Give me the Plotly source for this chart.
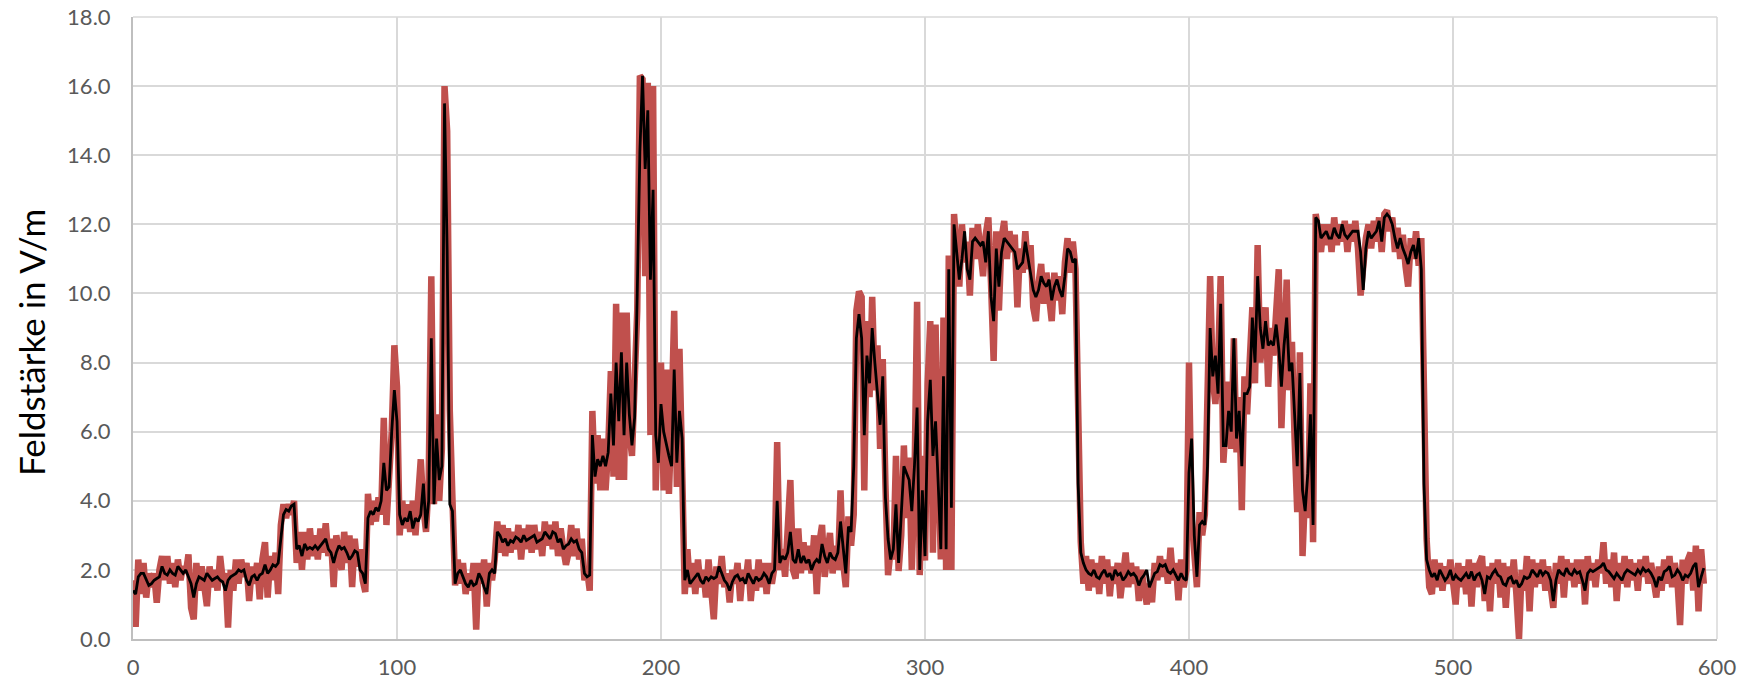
import plotly.graph_objects as go

# Measured field strength (red) and smoothed value (black), one value per time step
red_values = [
    1.7, 0.35, 2.3, 1.3, 2.2, 1.2, 1.9, 1.5, 1.9, 1.05,
    2.0, 2.4, 1.7, 2.4, 1.6, 2.2, 1.5, 2.3, 1.7, 2.1,
    1.9, 2.45, 0.9, 0.57, 2.2, 1.4, 2.1, 1.6, 0.95, 2.1,
    1.5, 2.0, 1.4, 2.4, 1.7, 1.9, 0.33, 2.0, 1.4, 2.3,
    1.6, 2.3, 1.8, 2.2, 1.1, 2.1, 1.6, 2.2, 1.15, 2.3,
    2.8, 1.2, 2.4, 1.7, 2.5, 1.3, 3.3, 3.9, 3.5, 3.9,
    3.6, 4.0, 2.2, 3.1, 2.0, 3.1, 2.3, 3.2, 2.4, 3.0,
    2.3, 3.2, 2.5, 3.35, 2.4, 2.9, 1.5, 3.0, 2.3, 2.0,
    3.1, 2.2, 3.0, 1.5, 2.9, 2.1, 2.6, 1.7, 1.36, 4.2,
    3.3, 4.0, 3.4, 4.1, 3.6, 6.4, 3.3, 4.6, 6.0, 8.5,
    7.3, 3.0, 4.0, 3.2, 3.9, 3.1, 4.0, 3.0, 3.9, 5.2,
    3.8, 3.1, 4.6, 10.5, 3.9, 6.5, 4.0, 5.5, 16.0, 14.7,
    6.6, 3.7, 1.55, 2.3, 1.6, 2.2, 1.3, 1.9, 1.4, 2.2,
    0.27, 2.2, 1.6, 2.3, 0.94, 2.2, 1.7, 2.3, 3.4, 2.5,
    3.3, 2.4, 3.2, 2.5, 3.1, 2.6, 3.3, 2.3, 3.2, 2.6,
    3.3, 2.5, 3.3, 2.6, 3.1, 2.4, 3.4, 2.7, 3.3, 2.6,
    3.4, 2.4, 3.2, 2.6, 2.15, 2.5, 3.3, 2.4, 3.2,
    2.3, 2.9, 1.7, 2.0, 1.4, 6.6, 4.5, 5.9, 4.3, 5.8,
    4.3, 5.5, 7.75, 4.7, 9.7, 4.6, 9.45, 4.6, 9.45, 6.0,
    5.3, 7.5, 9.5, 16.3, 16.2, 10.5, 16.1, 5.9, 16.0, 4.3,
    7.0, 8.0, 4.3, 7.8, 4.2, 6.4, 9.5, 4.4, 8.4, 5.0,
    1.3, 2.6, 1.5, 2.2, 1.3, 2.3, 1.5, 2.0, 1.2, 2.3,
    1.4, 0.57, 2.1, 1.6, 2.4, 1.5, 1.9, 1.06, 2.0, 1.6,
    2.2, 1.1, 2.0, 1.6, 2.3, 1.1, 2.0, 1.4, 2.3, 1.5,
    2.2, 1.3, 2.2, 1.6, 2.1, 5.7, 2.0, 2.6, 1.8, 2.9,
    4.6, 2.0, 1.75, 3.2, 1.9, 2.8, 2.0, 2.7, 1.9, 3.0,
    1.3, 2.8, 3.3, 1.8, 2.7, 3.07, 1.9, 2.7, 2.0, 4.3,
    2.2, 1.5, 3.55, 2.7, 3.6, 9.5, 10.06, 9.9, 4.3, 9.2,
    7.0, 9.9, 7.2, 8.5, 5.5, 8.1, 4.5, 1.85, 2.6, 2.3,
    5.3, 1.97, 3.0, 5.6, 3.5, 5.25, 2.0, 4.5, 9.76, 1.85,
    5.3, 2.27, 7.4, 9.2, 2.5, 9.1, 5.0, 2.3, 9.3, 2.0,
    11.1, 2.0, 12.3, 11.0, 10.2, 12.0, 10.9, 11.5, 9.94, 11.9,
    11.0, 12.0, 11.2, 10.5, 11.7, 12.2, 10.3, 8.05, 11.8, 9.5,
    11.6, 12.1, 11.0, 11.8, 11.2, 11.7, 9.6, 11.3, 10.6, 11.8,
    10.7, 11.4, 9.6, 9.2, 10.3, 10.85, 9.7, 10.6, 9.9, 9.2,
    10.6, 9.8, 10.5, 9.4, 10.9, 11.6, 10.6, 11.5, 10.7, 6.8,
    2.8, 1.6, 2.4, 1.4, 2.3, 1.5, 2.2, 1.3, 2.4, 1.6,
    2.3, 1.24, 2.1, 1.6, 2.2, 1.18, 2.0, 2.5, 1.5, 2.2,
    1.6, 2.1, 1.1, 2.0, 1.5, 1.0, 1.6, 1.06, 2.2,
    1.7, 2.4, 1.8, 2.3, 1.6, 2.64, 1.7, 2.2, 1.12, 2.3,
    1.5, 2.0, 8.0, 3.5, 2.4, 1.5, 3.67, 3.0, 3.6, 7.0,
    10.5, 7.5, 6.8, 8.0, 10.5, 5.1, 6.2, 7.45, 5.5, 8.7,
    5.4, 7.0, 3.73, 7.6, 6.5, 7.8, 9.6, 7.4, 11.4, 8.0,
    8.8, 9.6, 7.3, 9.0, 8.2, 9.5, 10.7, 6.1, 9.0, 10.4,
    7.2, 8.6, 5.8, 3.67, 8.3, 2.4, 4.3, 3.5, 7.4, 2.8,
    12.3, 11.7, 11.2, 12.0, 11.4, 12.0, 11.2, 12.2, 11.4, 12.0,
    11.5, 12.1, 11.2, 12.0, 11.5, 12.1, 11.3, 9.94, 11.0, 11.6,
    12.0, 11.3, 12.1, 11.5, 12.2, 11.2, 12.3, 12.4, 11.8, 12.2,
    11.2, 11.9, 11.0, 11.7, 10.8, 10.2, 11.6, 11.0, 11.8, 10.8,
    11.6, 5.4, 2.9, 1.5, 1.3, 2.3, 1.5, 2.2, 1.4, 2.1,
    1.6, 2.3, 1.4, 1.0, 2.2, 1.5, 2.1, 1.3, 2.3, 0.94,
    2.2, 1.5, 2.2, 2.4, 1.1, 2.1, 0.8, 2.2, 1.6, 2.3,
    1.2, 2.2, 0.9, 2.1, 1.5, 2.3, 1.3, 0.0, 2.0, 1.4,
    2.4, 0.8, 2.3, 1.5, 2.2, 1.6, 2.3, 1.4, 2.1, 1.5,
    0.9, 2.2, 1.6, 2.4, 1.2, 2.3, 1.7, 2.2, 1.5, 2.3,
    1.6, 2.3, 1.0, 2.4, 1.7, 2.2, 1.5, 2.3, 1.9, 2.8,
    1.6, 2.3, 1.5, 2.5, 1.1, 2.2, 1.6, 2.4, 1.5, 2.3,
    1.7, 2.2, 1.4, 2.3, 1.8, 2.4, 1.6, 2.2, 1.5, 1.2,
    2.1, 1.4, 2.3, 1.6, 2.4, 1.5, 2.2, 1.7, 0.4, 2.3,
    1.6, 2.3, 2.5, 1.4, 2.7, 0.8, 2.6, 1.6,
]

black_values = [
    1.4, 1.3, 1.8, 1.9, 1.9, 1.7, 1.55, 1.6, 1.7, 1.75,
    1.8, 2.1, 1.9, 1.85, 2.0, 1.9, 1.85, 2.1, 2.0, 1.9,
    2.0, 1.8, 1.6, 1.2, 1.6, 1.8, 1.75, 1.7, 1.9, 1.8,
    1.7, 1.75, 1.8, 1.7, 1.65, 1.4, 1.7, 1.8, 1.85, 1.9,
    2.0, 1.95, 2.0, 1.7, 1.55, 1.8, 1.85, 1.7, 1.85, 1.9,
    2.15, 1.9, 2.0, 2.15, 2.1, 2.2, 2.9, 3.6, 3.75, 3.7,
    3.85, 3.9, 2.6, 2.7, 2.4, 2.75, 2.6, 2.65, 2.6, 2.7,
    2.6, 2.7, 2.8, 2.9, 2.6, 2.5, 2.2, 2.5, 2.7, 2.6,
    2.65, 2.5, 2.3, 2.4, 2.55, 2.5, 2.0, 1.9, 1.6, 3.5,
    3.7, 3.6, 3.8, 3.7, 4.0, 5.1, 4.3, 4.4, 6.0, 7.2,
    6.3, 3.6, 3.3, 3.5, 3.4, 3.7, 3.2, 3.5, 3.4, 3.6,
    4.5, 3.2, 4.0, 8.7, 3.9, 5.8, 4.6, 5.0, 15.5, 11.2,
    3.9, 3.7, 1.6, 1.9, 2.0, 1.8, 1.6, 1.5, 1.7, 1.55,
    1.6, 1.9, 1.75, 1.5, 1.3, 1.9, 2.0, 1.9, 3.1, 3.0,
    2.8, 2.9, 2.7, 2.85, 2.8, 2.95, 2.9, 2.8, 3.0, 2.85,
    2.9, 2.95, 3.0, 2.8, 2.85, 2.9, 3.1, 3.0, 2.9, 3.1,
    3.05, 2.8, 2.9, 2.6, 2.7, 2.75, 2.9, 2.8, 2.85,
    2.6, 2.5, 1.9, 1.8, 1.85, 5.9, 4.7, 5.2, 5.0, 5.3,
    5.0, 5.4, 7.1, 5.6, 8.0, 6.3, 8.3, 5.9, 8.0, 6.5,
    5.6, 6.4, 10.0, 14.1, 16.3, 13.6, 15.3, 10.4, 13.0, 5.9,
    5.1, 6.8, 6.0, 5.6, 5.3, 5.0, 7.8, 5.1, 6.6, 5.8,
    1.7, 2.0, 1.6, 1.7, 1.8, 1.9, 1.7, 1.6, 1.8, 1.7,
    1.8, 1.75, 1.8, 2.1, 1.9, 1.7, 1.6, 1.4, 1.65, 1.8,
    1.85, 1.7, 1.75, 1.6, 1.9, 1.75, 1.6, 1.8, 1.7, 1.75,
    1.9, 1.8, 1.6, 1.9, 2.0, 4.0, 2.2, 2.4, 2.3, 2.5,
    3.1, 2.3, 2.2, 2.6, 2.2, 2.4, 2.2, 2.3, 2.0, 2.2,
    2.3, 2.2, 2.75, 2.4, 2.2, 2.5, 2.35, 2.3, 2.5, 3.4,
    2.6, 1.9, 3.25, 3.1, 5.0, 8.7, 9.4, 8.7, 5.9, 8.2,
    7.4, 9.0, 8.0, 7.0, 6.2, 7.6, 4.1, 2.9, 2.3, 2.6,
    3.9, 2.2, 3.5, 5.0, 4.8, 4.6, 3.7, 5.0, 6.7, 2.0,
    4.3, 2.4, 6.3, 7.5, 5.3, 6.3, 4.5, 2.6, 7.6, 2.6,
    10.7, 3.8, 12.0, 11.3, 10.4, 11.0, 11.8, 10.7, 10.4, 11.5,
    11.6, 11.5, 11.4, 11.5, 10.9, 11.8, 9.9, 9.2, 11.3, 10.2,
    11.2, 11.6, 11.5, 11.4, 11.3, 11.2, 10.7, 10.8, 10.9, 11.5,
    11.0, 10.6, 10.1, 9.9, 10.1, 10.5, 10.3, 10.2, 10.4, 9.8,
    10.2, 10.4, 10.1, 9.9, 10.5, 11.3, 11.2, 10.9, 11.0, 4.5,
    2.5, 2.2, 2.0, 1.9, 1.85, 2.0, 1.8, 1.75, 1.9, 2.0,
    1.8, 1.9, 1.7, 2.0, 1.85, 1.9, 1.7, 1.8, 1.95, 1.85,
    1.9, 1.8, 1.55, 1.75, 1.85, 2.0, 1.5, 1.7, 1.9,
    1.95, 2.15, 2.1, 2.15, 1.95, 1.9, 2.0, 1.85, 1.7, 1.9,
    1.75, 1.7, 4.8, 5.8, 3.0, 1.8, 3.3, 3.4, 3.3, 5.0,
    9.0, 7.6, 8.2, 7.1, 9.7, 5.6, 5.6, 6.6, 6.0, 8.7,
    5.8, 6.6, 5.0, 7.1, 7.1, 7.3, 9.3, 8.0, 10.5, 9.0,
    8.4, 9.2, 8.5, 8.6, 8.5, 9.1, 8.4, 7.3, 8.5, 9.3,
    7.75, 8.0, 6.5, 5.0, 7.7, 4.3, 3.7, 4.8, 6.5, 3.3,
    12.2, 12.1, 11.6, 11.7, 11.8, 11.6, 11.6, 11.9, 11.7, 11.6,
    12.0, 11.7, 11.6, 11.7, 11.8, 11.8, 11.8, 11.2, 10.1, 11.3,
    11.8, 11.6, 11.7, 11.8, 12.1, 11.5, 12.2, 12.3, 12.2, 12.0,
    11.6, 11.3, 11.6, 11.3, 11.1, 10.85, 11.2, 11.4, 11.0, 11.6,
    10.7, 4.5, 2.3, 2.0, 1.8, 1.9, 1.7, 2.0, 1.85, 1.7,
    1.8, 2.0, 1.7, 1.85, 1.75, 1.7, 1.8, 1.9, 1.75, 1.95,
    1.7, 1.85, 1.9, 1.7, 1.3, 1.8, 1.75, 1.9, 2.0, 1.85,
    1.8, 1.6, 1.55, 1.75, 1.8, 1.6, 1.7, 1.5, 1.6, 1.8,
    1.75, 1.8, 2.0, 1.9, 1.8, 2.0, 1.85, 1.95, 1.9, 1.7,
    1.1, 1.7, 2.0, 1.9, 1.85, 2.05, 1.9, 1.85, 2.0, 1.9,
    1.95, 1.7, 1.4, 1.9, 2.0, 1.95, 2.0, 2.05, 2.1, 2.2,
    2.0, 1.95, 1.85, 1.75, 1.9, 1.8, 1.7, 1.9, 2.0, 1.95,
    1.9, 1.85, 2.0, 1.9, 2.05, 1.95, 2.0, 1.9, 1.75, 1.5,
    1.8, 1.7, 1.95, 2.0, 2.1, 1.8, 1.85, 2.0, 1.9, 1.7,
    1.85, 1.8, 1.9, 2.1, 2.2, 1.5, 1.8, 2.05,
]

time_steps = list(range(len(red_values)))
x_ticks = [0, 100, 200, 300, 400, 500, 600]
y_ticks = [0, 2, 4, 6, 8, 10, 12, 14, 16, 18]
y_title = "Feldstärke in V/m"

fig = go.Figure()
fig.add_trace(go.Scatter(
    x=time_steps, y=red_values, mode="lines",
    line=dict(color="#C0504D", width=6.5), showlegend=False, hoverinfo="skip",
))
fig.add_trace(go.Scatter(
    x=list(range(len(black_values))), y=black_values, mode="lines",
    line=dict(color="#000000", width=2.8), showlegend=False, hoverinfo="skip",
))

grid = "#D9D9D9"
fig.update_layout(
    width=1739, height=685,
    margin=dict(l=133, r=22, t=17, b=46, pad=0),
    paper_bgcolor="white", plot_bgcolor="white",
    font=dict(family="Lato, Open Sans, sans-serif", color="#595959", size=22),
    showlegend=False,
)
fig.update_xaxes(
    range=[0, 600], tickvals=x_ticks, ticktext=[str(v) for v in x_ticks],
    showgrid=True, gridcolor=grid, gridwidth=1.5,
    showline=True, linecolor="#BFBFBF", linewidth=2,
    zeroline=False, ticks="", ticklabelstandoff=8, automargin=False,
    tickfont=dict(size=22, color="#595959"),
)
fig.update_yaxes(
    range=[0, 18], tickvals=y_ticks, ticktext=[f"{v:.1f}" for v in y_ticks],
    showgrid=True, gridcolor=grid, gridwidth=1.5,
    showline=True, linecolor="#BFBFBF", linewidth=2,
    zeroline=False, ticks="", ticklabelstandoff=16, automargin=False,
    tickfont=dict(size=22, color="#595959"),
)
# y-axis title placed as rotated text (centred slightly below the plot middle, as in the original)
fig.add_annotation(
    text=y_title, textangle=-90, showarrow=False,
    xref="paper", yref="paper", x=-0.0644, y=0.4775,
    xanchor="center", yanchor="middle",
    font=dict(size=35, color="#000000", family="Lato, Open Sans, sans-serif"),
)
fig.add_shape(type="line", xref="paper", yref="paper", x0=0, x1=1, y0=1, y1=1,
              line=dict(color=grid, width=1.5), layer="below")
fig.add_shape(type="line", xref="paper", yref="paper", x0=1, x1=1, y0=0, y1=1,
              line=dict(color=grid, width=1.5), layer="below")

fig.write_html(
    "out.html",
    config={"displayModeBar": False},
    post_script="document.body.style.margin='0';document.body.style.overflow='hidden';",
)
